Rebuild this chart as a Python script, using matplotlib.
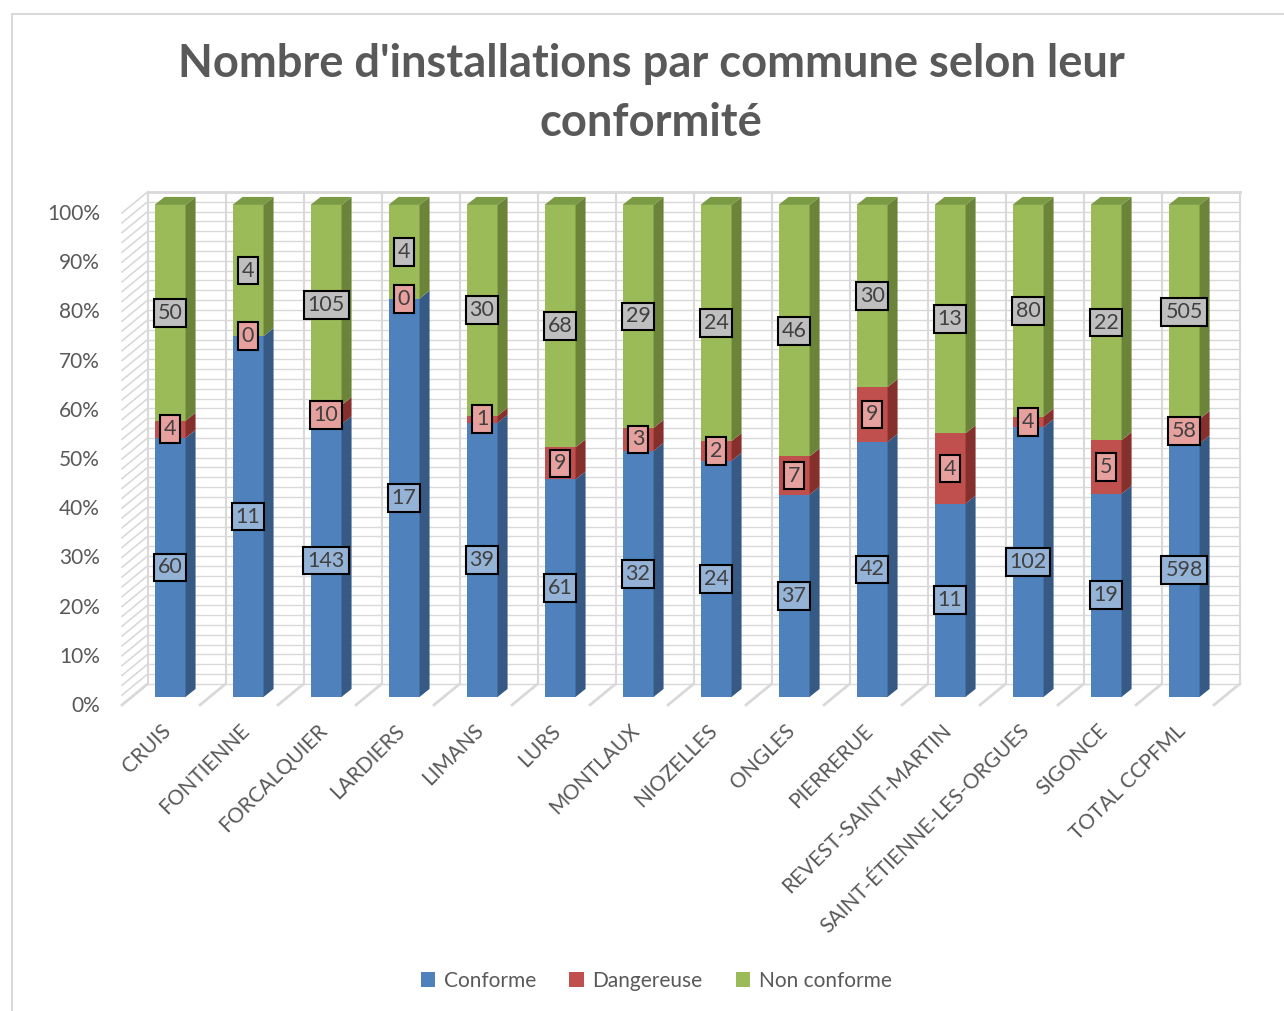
import numpy as np
import matplotlib.pyplot as plt
import matplotlib.transforms as mtransforms
from matplotlib.patches import Polygon, Rectangle

communes = ['CRUIS', 'FONTIENNE', 'FORCALQUIER', 'LARDIERS', 'LIMANS', 'LURS',
            'MONTLAUX', 'NIOZELLES', 'ONGLES', 'PIERRERUE', 'REVEST-SAINT-MARTIN',
            'SAINT-ÉTIENNE-LES-ORGUES', 'SIGONCE', 'TOTAL CCPFML']
conforme = [60, 11, 143, 17, 39, 61, 32, 24, 37, 42, 11, 102, 19, 598]
dangereuse = [4, 0, 10, 0, 1, 9, 3, 2, 7, 9, 4, 4, 5, 58]
non_conforme = [50, 4, 105, 4, 30, 68, 29, 24, 46, 30, 13, 80, 22, 505]
series_names = ['Conforme', 'Dangereuse', 'Non conforme']
yticks = np.arange(0, 101, 10)

front_cols = ['#4f81bd', '#c0504d', '#9bbb59']
side_cols = ['#375a85', '#86302e', '#6b843a']
top_col = '#7a9a43'
label_bg = ['#95b3d7', '#e6a09e', '#bfbfbf']
grid_col = '#d9d9d9'
text_col = '#595959'

plt.rcParams['font.family'] = ['Lato', 'DejaVu Sans']

fig = plt.figure(figsize=(12.84, 10.11), dpi=100)
# chart border
fig.add_artist(Rectangle((12 / 1284, -0.1), 1.2, 1 - 14 / 1011 + 0.1,
                         transform=fig.transFigure, fill=False,
                         edgecolor=grid_col, lw=1.5))

ax = fig.add_axes([0.0899, 0.3009, 0.8839, 0.511])
ax.set_xlim(-0.7, 13.85)
ax.set_ylim(-2, 103)

# pixel -> data helpers
px = 1 / 77.9
py = 1 / 4.92
fx, fy = -9 * px, -8 * py        # front edge of the floor
bx, by = 16.5 * px, 13 * py      # back wall
dx, dy = 10 * px, 8 * py         # bar depth
w = 31 * px

vals = np.array([conforme, dangereuse, non_conforme], dtype=float)
pct = vals / vals.sum(axis=0) * 100
x = np.arange(len(communes))

# back wall grid, side wall and floor
for g in np.arange(0, 101, 2):
    ax.plot([-0.5 + bx, len(communes) - 0.5 + bx], [g + by, g + by],
            color=grid_col, lw=1, zorder=1, clip_on=False)
    ax.plot([-0.5 + fx, -0.5 + bx], [g + fy, g + by],
            color=grid_col, lw=1.2, zorder=1, clip_on=False)
for b in np.arange(-0.5, len(communes), 1.0):
    ax.plot([b + bx, b + bx], [by, 100 + by], color=grid_col, lw=1.5,
            zorder=1, clip_on=False)
    ax.plot([b + fx, b + bx], [fy, by], color=grid_col, lw=2,
            zorder=1, clip_on=False)
ax.plot([-0.5 + bx, len(communes) - 0.5 + bx], [100 + by, 100 + by],
        color=grid_col, lw=2, zorder=1)

bottom = np.zeros(len(communes))
for k in range(3):
    ax.bar(x, pct[k], w, bottom=bottom, color=front_cols[k], zorder=3,
           label=series_names[k])
    for i in range(len(communes)):
        b, t = bottom[i], bottom[i] + pct[k][i]
        xr = x[i] + w / 2
        ax.add_patch(Polygon([(xr, b), (xr + dx, b + dy), (xr + dx, t + dy), (xr, t)],
                             closed=True, facecolor=side_cols[k], edgecolor='none',
                             zorder=3))
    bottom = bottom + pct[k]

for i in range(len(communes)):
    xl, xr = x[i] - w / 2, x[i] + w / 2
    ax.add_patch(Polygon([(xl, 100), (xl + dx, 100 + dy), (xr + dx, 100 + dy), (xr, 100)],
                         closed=True, facecolor=top_col, edgecolor='none', zorder=3,
                         clip_on=False))

# data labels
bottom = np.zeros(len(communes))
for k in range(3):
    for i in range(len(communes)):
        yc = bottom[i] + pct[k][i] / 2
        ax.text(x[i], yc, str(int(vals[k][i])), ha='center', va='center',
                fontsize=15.5, color='#404040', zorder=6,
                bbox=dict(boxstyle='square,pad=0.18', facecolor=label_bg[k],
                          edgecolor='black', lw=1.5))
    bottom = bottom + pct[k]

for s in ax.spines.values():
    s.set_visible(False)

ax.set_yticks(yticks)
ax.set_yticklabels([f'{v}%' for v in yticks], fontsize=15, color=text_col)
ax.tick_params(axis='y', length=0, pad=11)
for lab in ax.get_yticklabels():
    lab.set_transform(lab.get_transform() +
                      mtransforms.ScaledTranslation(0, -0.07, fig.dpi_scale_trans))

ax.set_xticks(x)
ax.set_xticklabels(communes, rotation=45, ha='right', va='center',
                   rotation_mode='anchor', fontsize=15, color=text_col)
ax.tick_params(axis='x', length=0, pad=15)
for lab in ax.get_xticklabels():
    lab.set_transform(lab.get_transform() +
                      mtransforms.ScaledTranslation(-0.02, 0, fig.dpi_scale_trans))

fig.text(0.507, 0.9075, "Nombre d'installations par commune selon leur\nconformité",
         ha='center', va='center', fontsize=32.6, fontweight='bold', color=text_col,
         linespacing=1.5)

fig.legend(loc='center', bbox_to_anchor=(0.511, 0.0297), ncol=3, frameon=False,
           fontsize=15, handlelength=0.7, handleheight=0.7, handletextpad=0.4,
           columnspacing=1.6, labelcolor=text_col)

fig.savefig('out.png', dpi=100)
